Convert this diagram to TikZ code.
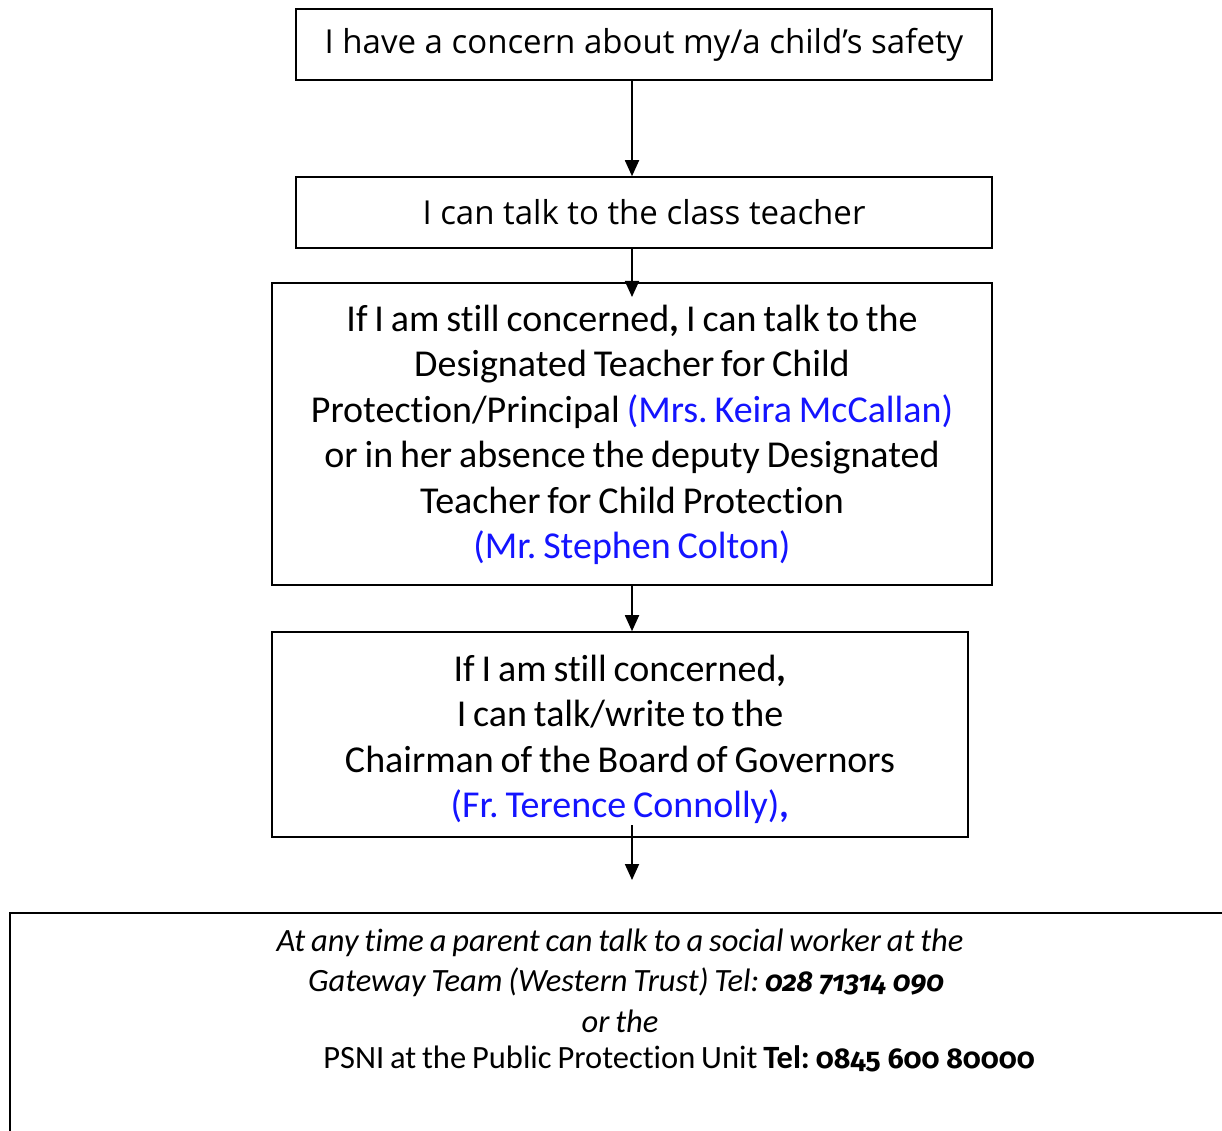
\documentclass[tikz,border=0pt]{standalone}
\usepackage{fontspec}
\setmainfont{Carlito}[WordSpace=0.8, Ligatures=NoCommon]
\newfontfamily\osans{Open Sans}
\newfontfamily\onumfont{Fira Sans}[Numbers=OldStyle, Scale=0.88]
\newcommand{\onum}[1]{{\onumfont #1}}
\usetikzlibrary{arrows.meta}
\definecolor{nameblue}{RGB}{20,20,255}
\tikzset{
  x=1pt, y=-1pt,
  box/.style={draw, line width=1.6pt, rectangle, inner sep=0pt, align=center},
  arr/.style={line width=1.8pt, -{Triangle[width=14pt,length=16pt]}},
  bigtxt/.style={font=\frenchspacing\fontsize{38}{45.5}\selectfont},
  toptxt/.style={font=\osans\fontsize{33}{36}\selectfont},
  lowtxt/.style={font=\frenchspacing\fontsize{32.5}{39}\selectfont, inner sep=0pt, anchor=center},
}
\begin{document}
\begin{tikzpicture}
\useasboundingbox (0,0) rectangle (1222,1131);
\clip (0,0) rectangle (1222,1131);
\node[box, toptxt, minimum width=696pt, minimum height=71pt] (b1) at (644,44.5) {I have a concern about my/a child’s safety};
\node[box, toptxt, minimum width=696pt, minimum height=71pt] (b2) at (644,212.5) {I can talk to the class teacher};
\node[box, minimum width=720pt, minimum height=302pt] (b3) at (632,434) {};
\node[bigtxt, align=center, inner sep=0pt] (t3) at (632,435) {If I am still concerned\textbf{,} I can talk to the\\Designated Teacher for Child\\Protection/Principal \textcolor{nameblue}{(Mrs. Keira McCallan)}\\or in her absence the deputy Designated\\Teacher for Child Protection\\\textcolor{nameblue}{(Mr. Stephen Colton)}};
\node[box, minimum width=696pt, minimum height=205pt] (b4) at (620,734.5) {};
\node[bigtxt, align=center, inner sep=0pt] (t4) at (620,739.5) {If I am still concerned\textbf{,}\\I can talk/write to the\\Chairman of the Board of Governors\\\textcolor{nameblue}{(Fr. Terence Connolly)\textbf{,}}};
\node[draw, line width=1.6pt, rectangle, inner sep=0pt, anchor=north west, minimum width=1250pt, minimum height=260pt] (b5) at (9,912) {};
\node[lowtxt] (l1) at (620,943) {\itshape At any time a parent can talk to a social worker at the};
\node[lowtxt] (l2) at (626,982) {\itshape Gateway Team (Western Trust) Tel: \textbf{\onum{028 71314 090}}};
\node[lowtxt] (l3) at (620,1021) {\itshape or the};
\node[lowtxt] (l4) at (679,1059) {PSNI at the Public Protection Unit \textbf{Tel: \onum{0845 600 80000}}};
\coordinate (a2e) at (632,297);
\coordinate (a4s) at (632,825);
\coordinate (a4e) at (632,880);
\draw[arr] (b1.south -| a2e) -- (b2.north -| a2e);
\draw[arr] (b2.south -| a2e) -- (a2e);
\draw[arr] (b3.south -| a2e) -- (b4.north -| a2e);
\draw[arr] (a4s) -- (a4e);
\end{tikzpicture}
\end{document}
